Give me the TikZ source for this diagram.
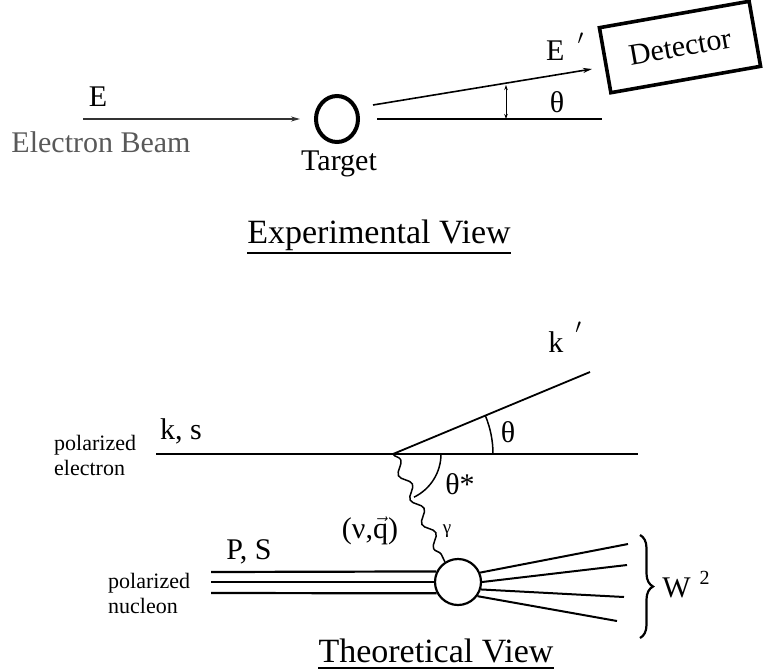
\documentclass[tikz,border=0pt]{standalone}
\usepackage{fontspec}
\setmainfont{Liberation Serif}
\usetikzlibrary{arrows.meta,shapes.geometric,decorations.pathmorphing,decorations.pathreplacing}
\newcommand{\fsz}[2]{\fontsize{#1}{#2}\selectfont}
\begin{document}
\begin{tikzpicture}[x=1pt,y=-1pt,
  lbl/.style={inner sep=0pt, anchor=base, font=\fsz{30}{34}},
  small/.style={inner sep=0pt, font=\fsz{22}{25}, align=left, anchor=west},
  title/.style={inner sep=0pt, anchor=base, font=\fsz{34}{38}},
  thinline/.style={line width=1.5pt},
  arr/.style={line width=1.6pt, -{Stealth[length=9pt,width=5pt]}},
  dbl/.style={line width=0.9pt, {Stealth[length=5pt,width=3.5pt]}-{Stealth[length=5pt,width=3.5pt]}},
  uline/.style={line width=2.6pt},
  nuc/.style={line width=2.2pt},
  outl/.style={line width=2pt}]
\useasboundingbox (0,0) rectangle (763,670);

% ---------------- Experimental view ----------------
\node[lbl] (E) at (98,106) {E};
\node[lbl, text=black!65] (eb) at (101,152) {Electron Beam};
\node[draw, ellipse, line width=4pt, minimum width=42pt, minimum height=46pt, inner sep=0pt] (target) at (337,119) {};
\node[lbl] (tg) at (339,170) {Target};
\coordinate (bs) at (83,119);
\draw[arr, black!80] (bs) -- ([xshift=-14pt]target.west);
\coordinate (sA) at (373,105);
\coordinate (sB) at (592,69);
\draw[arr] (sA) -- (sB);
\coordinate (hA) at (377,119);
\coordinate (hB) at (602,119);
\draw[thinline] (hA) -- (hB);
\coordinate (dA) at (506,85);
\coordinate (dB) at (506,119);
\draw[dbl] (dA) -- (dB);
\node[lbl] (th1) at (557,112) {θ};
\node[lbl] (Ep) at (565,60) {E\kern13pt\raisebox{6pt}{$'$}};
\node[draw, line width=3.6pt, rotate=10, minimum width=152pt, minimum height=66pt, font=\fsz{30}{34}] (det) at (680,47) {Detector};
\node[title] (ev) at (379,243) {Experimental View};
\draw[uline] ([yshift=-10pt]ev.base west) -- ([yshift=-10pt]ev.base east);

% ---------------- Theoretical view ----------------
\coordinate (v) at (393,454);
\coordinate (eL) at (156,454);
\coordinate (eR) at (638,454);
\coordinate (kp) at (590,372);
\draw[thinline] (eL) -- (eR);
\draw[line width=1.8pt] (v) -- (kp);
\draw[thinline] (v) ++(0:100) arc (0:-22.6:100);
\draw[thinline] (v) ++(0:48) arc (0:64:48);
\node[lbl] (kpl) at (565,352) {k\kern12pt\raisebox{9pt}{$'$}};
\node[lbl] (ks) at (181,439) {k, s};
\node[small] (pe) at (54,455) {polarized\\electron};
\node[lbl] (th2) at (508,442) {θ};
\node[lbl] (ths) at (460,494) {θ*};

\node[circle, draw, line width=2.2pt, minimum size=46pt, inner sep=0pt] (blob) at (458,582) {};
\draw[thinline, decorate, decoration={snake, amplitude=4.5pt, segment length=27pt}] (v) -- (blob.123);
\node[lbl] (nuq) at (370,538) {(ν,$\vec{\mathrm{q}}$)};
\node[lbl, font=\fsz{19}{22}] (gam) at (447,533) {γ};
\node[lbl] (ps) at (249,559) {P, S};

\coordinate (n1) at (211,572);
\coordinate (n2) at (211,582);
\coordinate (n3) at (211,593);
\draw[nuc] (n1) -- (blob.154);
\draw[nuc] (n2) -- (blob.180);
\draw[nuc] (n3) -- (blob.208);
\node[small] (pn) at (108,593) {polarized\\nucleon};

\coordinate (o1) at (628,544);
\coordinate (o2) at (627,565);
\coordinate (o3) at (624,597);
\coordinate (o4) at (617,621);
\draw[outl] (blob.23) -- (o1);
\draw[outl] (blob.0) -- (o2);
\draw[outl] (blob.-18) -- (o3);
\draw[outl] (blob.-36) -- (o4);

\coordinate (bT) at (640,535);
\coordinate (bB) at (640,638);
\draw[line width=2.2pt, decorate, decoration={brace, amplitude=13pt}] (bT) -- (bB);
\node[lbl] (W) at (686,597) {W\kern9pt\raisebox{13pt}{\fsz{20}{22}2}};

\node[title] (tv) at (436,662) {Theoretical View};
\draw[uline] ([yshift=-6pt]tv.base west) -- ([yshift=-6pt]tv.base east);
\end{tikzpicture}
\end{document}
